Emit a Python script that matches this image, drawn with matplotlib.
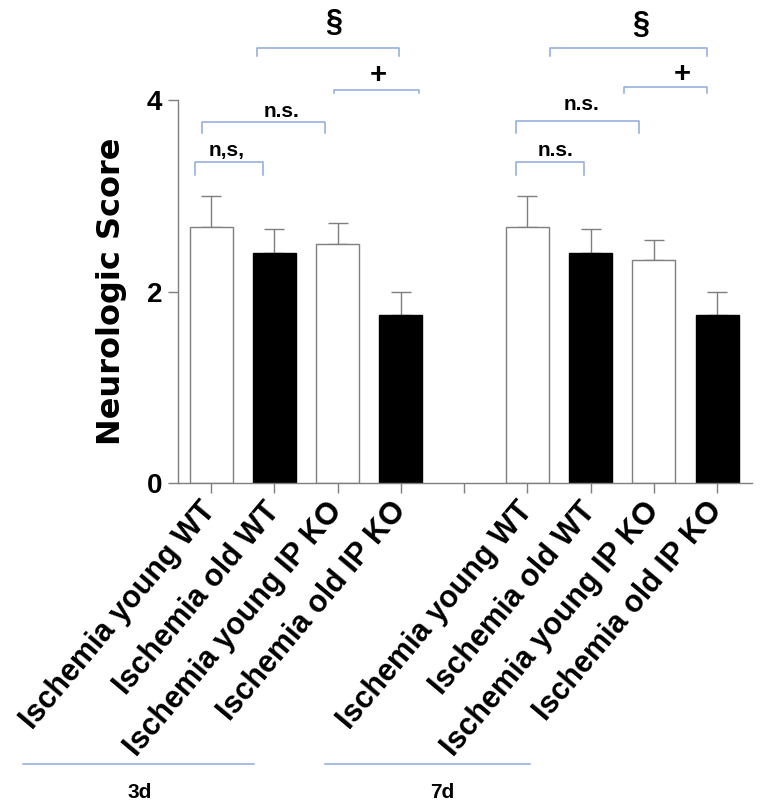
import matplotlib
matplotlib.use("Agg")
import matplotlib.pyplot as plt
from matplotlib.lines import Line2D

# ---- data ----
groups = ["3d", "7d"]
categories = ["Ischemia young WT", "Ischemia old WT",
              "Ischemia young IP KO", "Ischemia old IP KO"]
means_3d = [2.67, 2.40, 2.50, 1.75]
errs_3d = [0.33, 0.25, 0.22, 0.25]
means_7d = [2.67, 2.40, 2.33, 1.75]
errs_7d = [0.33, 0.25, 0.21, 0.25]
bar_colors = ["white", "black", "white", "black"]
yticks = [0, 2, 4]

# significance annotations: (x1, x2, y_top, y_leg, label, text_x, text_y, fontsize)
brackets = [
    (-0.25, 0.82, 3.35, 3.22, "n,s,", 0.25, 3.47, 15),
    (-0.14, 1.80, 3.77, 3.66, "n.s.", 1.12, 3.88, 15),
    (1.94, 3.29, 4.10, 4.07, "+", 2.64, 4.26, 21),
    (0.73, 2.97, 4.54, 4.46, "§", 1.94, 4.80, 22),
    (4.82, 5.90, 3.35, 3.22, "n.s.", 5.45, 3.47, 15),
    (4.82, 6.77, 3.78, 3.66, "n.s.", 5.85, 3.95, 15),
    (6.53, 7.84, 4.14, 4.07, "+", 7.45, 4.27, 21),
    (5.36, 7.84, 4.54, 4.46, "§", 6.80, 4.78, 22),
]

plt.rcParams['font.family'] = ['Liberation Sans', 'DejaVu Sans']

W, H = 762, 811
fig = plt.figure(figsize=(W / 100, H / 100), dpi=100)
ax = fig.add_axes([178 / W, 1 - 483 / H, (752 - 178) / W, (483 - 100) / H])

gray = "#7f7f7f"
blue = "#8eaadb"

positions = [0, 1, 2, 3, 5, 6, 7, 8]
means = means_3d + means_7d
errs = errs_3d + errs_7d
colors = bar_colors + bar_colors
labels = categories + categories

for x, m, e, c in zip(positions, means, errs, colors):
    ax.bar(x, m, width=0.68, color=c,
           edgecolor=gray if c == "white" else "black", linewidth=1.0, zorder=2)
    ax.errorbar(x, m, yerr=[[0], [e]], fmt="none", ecolor=gray,
                elinewidth=1.0, capsize=7.5, capthick=1.0, zorder=1)

ax.set_xlim(-0.522, 8.553)
ax.set_ylim(0, 4)
ax.set_yticks(yticks)
ax.set_yticklabels([str(t) for t in yticks], fontsize=20, fontweight="bold")
tick_pos = list(range(9))
tick_labels = labels[:4] + [""] + labels[4:]
ax.set_xticks(tick_pos)
ax.set_xticklabels(tick_labels, rotation=50, ha="right", va="center",
                   rotation_mode="anchor", fontsize=22, fontweight="bold")
ax.tick_params(axis="both", color=gray, width=1.0, length=7.5, direction="out")
ax.tick_params(axis="x", pad=9)
ax.tick_params(axis="y", pad=4)

for s in ["top", "right"]:
    ax.spines[s].set_visible(False)
for s in ["left", "bottom"]:
    ax.spines[s].set_color(gray)
    ax.spines[s].set_linewidth(1.0)

ax.set_ylabel("Neurologic Score", fontsize=23, fontweight="bold",
              family=["DejaVu Sans"], labelpad=14)

for x1, x2, yt, yl, lab, tx, ty, fs in brackets:
    ax.plot([x1, x1, x2, x2], [yl, yt, yt, yl], color=blue, lw=1.1,
            clip_on=False, zorder=3)
    ax.text(tx, ty, lab, ha="center", va="center", fontsize=fs,
            fontweight="bold", clip_on=False)

# group bars at bottom
group_lines = [(23, 254), (325, 530)]
group_text_x = [140, 442]
for (a, b), tx, g in zip(group_lines, group_text_x, groups):
    fig.add_artist(Line2D([a / W, b / W], [1 - 764 / H, 1 - 764 / H],
                          color=blue, lw=1.1))
    fig.text(tx / W, 1 - 792 / H, g, ha="center", va="center",
             fontsize=15, fontweight="bold")

fig.savefig("out.png", dpi=100)
